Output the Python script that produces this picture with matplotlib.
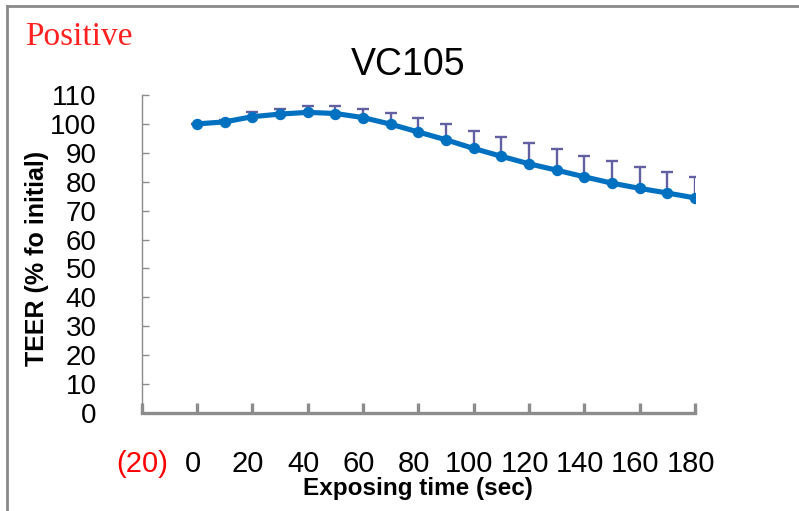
import matplotlib
matplotlib.use("Agg")
import matplotlib.pyplot as plt
import matplotlib.transforms as mtransforms
from matplotlib.lines import Line2D
import numpy as np

plt.rcParams['font.family'] = ['Liberation Sans', 'DejaVu Sans']

# ---- data ----
times = [0, 10, 20, 30, 40, 50, 60, 70, 80, 90, 100, 110, 120, 130, 140, 150, 160, 170, 180]
teer = [100.0, 100.7, 102.5, 103.4, 104.0, 103.6, 102.2, 99.9, 97.2, 94.5,
        91.5, 88.8, 86.2, 84.0, 81.7, 79.5, 77.7, 76.1, 74.4]
err_up = [0.0, 0.5, 1.5, 1.9, 2.2, 2.6, 3.1, 4.0, 5.0, 5.5,
          6.2, 6.8, 7.2, 7.2, 7.3, 7.8, 7.3, 7.3, 7.2]
xticks = [-20, 0, 20, 40, 60, 80, 100, 120, 140, 160, 180]
xtick_labels = ['(20)', '0', '20', '40', '60', '80', '100', '120', '140', '160', '180']
yticks = list(range(0, 111, 10))
title = 'VC105'
xlabel = 'Exposing time (sec)'
ylabel = 'TEER (% fo initial)'
tag = 'Positive'

W, H = 799, 511
fig = plt.figure(figsize=(W / 100, H / 100), dpi=100)
ax = fig.add_axes([141.7 / W, (H - 413) / H, (695 - 141.7) / W, (413 - 95) / H])

line_col = '#0070C0'
err_col = '#6260A0'
axis_col = '#8C8C8C'

ax.errorbar(times, teer, yerr=[np.zeros(len(err_up)), err_up], fmt='none',
            ecolor=err_col, elinewidth=1.7, capsize=4.5, capthick=1.7, zorder=2)
ax.plot(times, teer, color=line_col, lw=3.7, marker='o', ms=7.2,
        markerfacecolor=line_col, markeredgecolor=line_col, zorder=3,
        solid_capstyle='round', solid_joinstyle='round')

ax.set_xlim(-20, 180)
ax.set_ylim(0, 110)
ax.set_xticks(xticks)
ax.set_xticklabels([])
ax.set_yticks(yticks)
ax.set_yticklabels([str(v) for v in yticks])

for s in ['top', 'right']:
    ax.spines[s].set_visible(False)
ax.spines['left'].set_color(axis_col)
ax.spines['left'].set_linewidth(1.0)
ax.spines['bottom'].set_color(axis_col)
ax.spines['bottom'].set_linewidth(2.4)
ax.spines['bottom'].set_capstyle('projecting')

ax.tick_params(axis='y', direction='in', length=5, width=1.0, color=axis_col,
               labelsize=20, pad=32.4, labelcolor='black')
ax.tick_params(axis='x', direction='in', length=7, width=2.4, color=axis_col)

# x tick labels (accounting style: positive numbers padded by a ")" width)
base = ax.get_xaxis_transform()
for v, lab in zip(xticks, xtick_labels):
    dx = 0 if v < 0 else -4.4
    tr = base + mtransforms.ScaledTranslation(dx / 100, -59 / 100, fig.dpi_scale_trans)
    ax.text(v, 0, lab, transform=tr, ha='center', va='baseline', fontsize=21,
            color='red' if v < 0 else 'black')

fig.text(408 / W, (H - 75) / H, title, ha='center', va='baseline', fontsize=27)
fig.text(418 / W, (H - 495) / H, xlabel, ha='center', va='baseline', fontsize=17.5,
         fontweight='bold')
fig.text(37 / W, (H - 258) / H, ylabel, ha='center', va='center', rotation=90,
         fontsize=18, fontweight='bold')
fig.text(25 / W, (H - 45) / H, tag, ha='left', va='baseline', fontsize=24,
         color='#FF2020', family=['Liberation Serif', 'DejaVu Serif'])

# chart frame (left and top edges visible)
fig.add_artist(Line2D([7 / W, 7 / W], [0, (H - 6) / H], transform=fig.transFigure,
                      color='#8A8A8A', lw=2.0))
fig.add_artist(Line2D([7 / W, 1.0], [(H - 6) / H, (H - 6) / H], transform=fig.transFigure,
                      color='#8A8A8A', lw=2.0))

fig.savefig('out.png', dpi=100)
